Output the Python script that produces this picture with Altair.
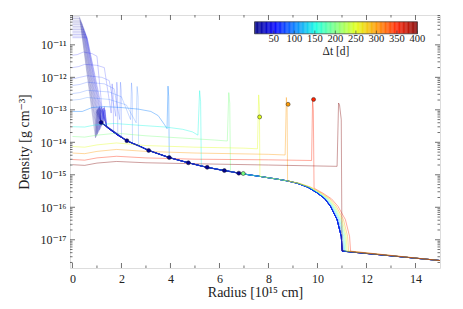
import altair as alt
import pandas as pd

FONT = "Liberation Serif, DejaVu Serif, serif"
X_DOMAIN = [-0.1, 15.0]
Y_DOMAIN = [1.35e-18, 8.3e-11]

# ---- unshocked CSM curve (x in 1e15 cm, log10 density) ----
main_x = [1.17, 1.40, 1.68, 1.85, 2.0, 2.22, 2.45, 2.70, 3.11, 3.95, 4.73, 5.26, 5.50, 6.20, 6.45, 6.85,
          7.65, 8.49, 8.78, 9.17, 9.6, 9.86, 9.99, 10.3, 10.53, 10.8, 10.97, 11.01]
main_y = [-13.39, -13.53, -13.69, -13.78, -13.85, -13.95, -14.03, -14.10, -14.25, -14.47, -14.63, -14.73,
          -14.77, -14.87, -14.90, -14.96, -15.05, -15.15, -15.19, -15.26, -15.38, -15.50, -15.56, -15.74,
          -15.97, -16.38, -16.90, -17.35]
# how much of a profile's outward shift applies at each node (outer edge only)
main_w = [0, 0, 0, 0, 0, 0, 0, 0, 0, 0, 0, 0, 0, 0, 0, 0, 0, 0, 0, 0.3, 0.5, 0.6, 0.65, 0.8, 0.9, 1, 1, 1]
tail_x = [15.0]
tail_y = [-17.64]

# ---- early profiles (dark blue fan) ----
fan_dt = [3, 6, 9, 12, 15, 18, 21, 24, 27, 30, 33, 36, 40, 45]
fan_top = [-10.14, -10.19, -10.24, -10.29, -10.33, -10.38, -10.43, -10.48, -10.53, -10.58, -10.63,
           -10.68, -10.73, -10.78]
fan_xa = [0.29, 0.31, 0.34, 0.36, 0.39, 0.41, 0.43, 0.46, 0.48, 0.51, 0.53, 0.55, 0.58, 0.60]
fan_xb = [0.94, 0.97, 1.00, 1.02, 1.05, 1.08, 1.11, 1.13, 1.16, 1.19, 1.22, 1.24, 1.27, 1.30]
fan_yb = [-13.86, -13.82, -13.78, -13.74, -13.70, -13.66, -13.62, -13.58, -13.54, -13.50, -13.46,
          -13.42, -13.38, -13.34]
fan_ys = [-13.05, -13.0, -12.98, -12.95, -12.92, -12.9, -12.95, -13.0, -12.92, -12.97, -13.02,
          -12.95, -12.9, -13.0]

# ---- mid-time profiles (blue) ----
mid_dt = [50, 58, 66, 74, 82, 90]
mid_x = [[0, 0.2, 0.45, 0.8, 1.0, 1.25, 1.29, 1.33],
         [0, 0.25, 0.5, 1.0, 1.3, 1.58, 1.62, 1.66],
         [0, 0.3, 0.6, 1.2, 1.5, 1.77, 1.81, 1.84],
         [0, 0.3, 0.6, 1.3, 1.7, 1.93, 1.96, 1.99],
         [0, 0.3, 0.6, 1.5, 2.0, 2.37, 2.41, 2.44],
         [0, 0.3, 0.6, 1.5, 2.2, 2.60, 2.64, 2.68]]
mid_y = [[-11.32, -11.30, -11.22, -11.27, -11.35, -13.30, -12.95, -13.10],
         [-11.70, -11.67, -11.60, -11.63, -11.70, -13.10, -12.20, -12.50],
         [-12.05, -12.00, -11.95, -12.00, -12.10, -13.20, -12.15, -12.40],
         [-12.25, -12.22, -12.15, -12.20, -12.35, -13.30, -12.15, -12.40],
         [-12.50, -12.47, -12.40, -12.45, -12.60, -13.30, -12.17, -12.50],
         [-12.70, -12.68, -12.62, -12.68, -12.85, -13.40, -12.28, -12.60]]

# ---- later coloured profiles ----
col_dt = [100, 150, 200, 250, 300, 350]
col_shift = [0.05, 0.10, 0.15, 0.20, 0.26, 0.34]
col_x = [[0, 0.4, 0.8, 1.3, 2.0, 2.7, 3.2, 3.5, 3.75, 3.86, 3.90, 3.93],
         [0, 0.5, 0.9, 1.7, 2.8, 3.8, 4.5, 4.9, 5.12, 5.19, 5.23],
         [0, 0.5, 1.0, 1.8, 3.0, 4.5, 5.8, 6.32, 6.38, 6.42],
         [0, 0.5, 1.0, 1.8, 3.0, 5.0, 7.0, 7.55, 7.60, 7.63],
         [0, 0.5, 1.0, 1.8, 3.0, 5.0, 8.0, 8.68, 8.73, 8.76],
         [0, 0.5, 1.0, 1.8, 3.0, 5.0, 8.0, 9.76, 9.80, 9.83]]
col_y = [[-13.05, -13.05, -12.93, -12.90, -12.93, -12.98, -13.05, -13.18, -13.45, -13.58, -12.27, -12.60],
         [-13.52, -13.53, -13.47, -13.42, -13.48, -13.53, -13.60, -13.68, -13.78, -12.41, -12.75],
         [-13.82, -13.84, -13.78, -13.72, -13.80, -13.87, -13.93, -13.96, -12.47, -12.80],
         [-14.13, -14.15, -14.08, -14.02, -14.10, -14.15, -14.18, -14.20, -12.54, -12.90],
         [-14.33, -14.35, -14.28, -14.22, -14.28, -14.33, -14.37, -14.39, -12.62, -12.95],
         [-14.53, -14.55, -14.48, -14.43, -14.48, -14.52, -14.54, -14.56, -12.67, -13.00]]
col_join_x = [3.95, 5.26, 6.45, 7.65, 8.78, 9.86]
col_join_y = [-14.47, -14.73, -14.90, -15.05, -15.19, -15.41]

# last profile (400 d): shell sits on the CSM edge
last_dt = 400
last_x = [0, 0.5, 1.0, 1.8, 3.0, 5.0, 8.0, 10.80, 10.86, 10.90, 10.97, 11.00, 11.38, 15.0]
last_y = [-14.69, -14.71, -14.64, -14.59, -14.63, -14.66, -14.70, -14.74, -12.79, -12.85, -13.30,
          -17.33, -17.38, -17.64]

# ---- shock markers ----
track_x = [1.17, 2.22, 3.11, 3.95, 4.73, 5.50, 6.20, 6.79, 6.97]
track_y = [-13.39, -13.95, -14.25, -14.47, -14.63, -14.77, -14.87, -14.95, -14.96]
dot_x = [1.17, 2.22, 3.11, 3.95, 4.73, 5.50, 6.20, 6.79, 6.97, 7.64, 8.80, 9.84]
dot_y = [-13.39, -13.95, -14.25, -14.47, -14.63, -14.77, -14.87, -14.95, -14.96, -13.22, -12.83, -12.68]
dot_dt = [10, 10, 10, 10, 10, 10, 10, 10, 200, 250, 300, 350]

# ---- colour bar (jet), Δt range and tick labels ----
JET = ["#00007f", "#0000ff", "#007fff", "#14ffe2", "#7bff7b", "#e2ff14", "#ff9700", "#ff2100", "#7f0000"]
JET_DOMAIN = [3, 52.6, 102.3, 151.9, 201.5, 251.1, 300.8, 350.4, 400]
CB_DT = [3, 400]
CB_TICKS = [50, 100, 150, 200, 250, 300, 350, 400]
CB_TITLE = "Δt [d]"
# colour bar placement in data coordinates (inside the axes, upper right)
CB_X = [7.43, 14.08]
CB_LOGY = [-10.29, -10.66]
CB_LABEL_LOGY = -10.82
CB_TITLE_LOGY = -11.22


def outer(join_x, shift):
    pts = []
    for x, y, w in zip(main_x, main_y, main_w):
        xs = x + shift * w
        if xs > join_x:
            pts.append((xs, y))
    return pts + list(zip(tail_x, tail_y))


early_rows, col_rows = [], []


def add(rows, pid, dt, pts):
    for i, (x, y) in enumerate(pts):
        rows.append({"pid": pid, "dt": dt, "x": x, "rho": 10 ** y, "o": i})


for k in range(len(fan_dt)):
    pts = [(0, fan_top[k]), (fan_xa[k], fan_top[k]), (fan_xb[k], fan_yb[k]), (fan_xb[k] + 0.03, fan_ys[k])]
    pts += outer(fan_xb[k] + 0.05, 0)
    add(early_rows, f"f{k:02d}", fan_dt[k], pts)

mid_join = [1.40, 1.68, 1.85, 2.0, 2.45, 2.70]
for k in range(len(mid_dt)):
    pts = list(zip(mid_x[k], mid_y[k]))
    pts += outer(mid_join[k] - 0.001, 0)
    add(early_rows, f"m{k}", mid_dt[k], pts)

for k in range(len(col_dt)):
    pts = list(zip(col_x[k], col_y[k])) + [(col_join_x[k], col_join_y[k])]
    pts += outer(col_join_x[k], col_shift[k])
    add(col_rows, f"c{k}", col_dt[k], pts)
add(col_rows, "c_last", last_dt, list(zip(last_x, last_y)))

df_early = pd.DataFrame(early_rows)
df_col = pd.DataFrame(col_rows)
df_track = pd.DataFrame({"x": track_x, "rho": [10 ** v for v in track_y]})
df_dots = pd.DataFrame({"x": dot_x, "rho": [10 ** v for v in dot_y], "dt": dot_dt})


def cb_pos(dt):
    return CB_X[0] + (dt - CB_DT[0]) / (CB_DT[1] - CB_DT[0]) * (CB_X[1] - CB_X[0])


cb_steps = list(range(CB_DT[0], CB_DT[1], 2))
df_cb = pd.DataFrame({
    "dt": [s + 1 for s in cb_steps],
    "x": [cb_pos(s) for s in cb_steps],
    "x2": [cb_pos(min(s + 2.3, CB_DT[1])) for s in cb_steps],
    "rho": [10 ** CB_LOGY[0]] * len(cb_steps),
    "rho2": [10 ** CB_LOGY[1]] * len(cb_steps),
})
df_cb_frame = pd.DataFrame({"x": [CB_X[0]], "x2": [CB_X[1]], "rho": [10 ** CB_LOGY[0]],
                            "rho2": [10 ** CB_LOGY[1]]})
df_cb_lab = pd.DataFrame({"x": [cb_pos(t) for t in CB_TICKS], "rho": [10 ** CB_LABEL_LOGY] * len(CB_TICKS),
                          "txt": [str(t) for t in CB_TICKS],
                          "y1": [10 ** CB_LOGY[1]] * len(CB_TICKS),
                          "y2": [10 ** (CB_LOGY[1] + 0.1)] * len(CB_TICKS)})
df_cb_title = pd.DataFrame({"x": [sum(CB_X) / 2], "rho": [10 ** CB_TITLE_LOGY], "txt": [CB_TITLE]})

# axes / scales
xscale = alt.Scale(domain=X_DOMAIN, nice=False, zero=False)
yscale = alt.Scale(type="log", domain=Y_DOMAIN, nice=False)
cscale = alt.Scale(domain=JET_DOMAIN, range=JET, interpolate="rgb")

exps = [-17, -16, -15, -14, -13, -12, -11]
sup = {"-": "⁻", "0": "⁰", "1": "¹", "2": "²", "3": "³", "4": "⁴", "5": "⁵", "6": "⁶", "7": "⁷",
       "8": "⁸", "9": "⁹"}
expr = "''"
for e in exps:
    lab = "10" + "".join(sup[c] for c in str(e))
    expr = f"round(log(datum.value)/LN10) == {e} ? '{lab}' : ({expr})"

xaxis = alt.Axis(values=[0, 2, 4, 6, 8, 10, 12, 14], ticks=False, domain=False, grid=False,
                 labelFont=FONT, labelFontSize=12, labelColor="#222", labelPadding=5,
                 titleFont=FONT, titleFontSize=14, titleFontWeight="normal", titleColor="#222",
                 titlePadding=1, format="d")
yaxis = alt.Axis(values=[10.0 ** e for e in exps], labelExpr=expr, ticks=False, domain=False,
                 grid=False, labelFont=FONT, labelFontSize=12, labelColor="#222", labelPadding=4,
                 titleFont=FONT, titleFontSize=14, titleFontWeight="normal", titleColor="#222",
                 titlePadding=8)
XT = "Radius [10¹⁵ cm]"
YT = "Density [g cm⁻³]"


def X():
    return alt.X("x:Q", scale=xscale, axis=xaxis, title=XT)


def Y():
    return alt.Y("rho:Q", scale=yscale, axis=yaxis, title=YT)


C = alt.Color("dt:Q", scale=cscale, legend=None)

early = alt.Chart(df_early).mark_line(opacity=0.3, strokeWidth=0.7, clip=True).encode(
    x=X(), y=Y(), color=C, detail="pid:N", order="o:Q")
later = alt.Chart(df_col).mark_line(opacity=0.38, strokeWidth=1.0, clip=True).encode(
    x=X(), y=Y(), color=C, detail="pid:N", order="o:Q")
track = alt.Chart(df_track).mark_line(color="#1f33b8", strokeWidth=1.2).encode(x=X(), y=Y())
dots = alt.Chart(df_dots).mark_circle(size=16, opacity=1, stroke="#222", strokeWidth=0.5).encode(
    x=X(), y=Y(), color=C)

# colour bar
cb = alt.Chart(df_cb).mark_rect(strokeWidth=0).encode(x=X(), x2="x2:Q", y=Y(), y2="rho2:Q", color=C)
cb_frame = alt.Chart(df_cb_frame).mark_rect(fill=None, stroke="#333", strokeWidth=0.7).encode(
    x=X(), x2="x2:Q", y=Y(), y2="rho2:Q")
cb_ticks = alt.Chart(df_cb_lab).mark_rule(color="#333", strokeWidth=0.6).encode(
    x=X(), y=alt.Y("y1:Q", scale=yscale, axis=yaxis, title=YT), y2="y2:Q")
cb_labels = alt.Chart(df_cb_lab).mark_text(font=FONT, fontSize=10.5, color="#222", baseline="middle").encode(
    x=X(), y=Y(), text="txt:N")
cb_title = alt.Chart(df_cb_title).mark_text(font=FONT, fontSize=11.5, color="#222", baseline="middle").encode(
    x=X(), y=Y(), text="txt:N")

# inward ticks
ymaj = [10.0 ** e for e in exps]
ymin = [m * 10.0 ** e for e in range(-18, -10) for m in range(2, 10)]
ymin = [v for v in ymin if Y_DOMAIN[0] < v < Y_DOMAIN[1]]
xmaj = [0, 2, 4, 6, 8, 10, 12, 14]
xmin = [1, 3, 5, 7, 9, 11, 13]
W, H = 370, 253


def yticks(vals, L):
    d = pd.DataFrame({"rho": vals})
    a = alt.Chart(d).mark_rule(color="#333", strokeWidth=0.7, clip=True).encode(
        y=Y(), x=alt.value(0), x2=alt.value(L))
    b = alt.Chart(d).mark_rule(color="#333", strokeWidth=0.7, clip=True).encode(
        y=Y(), x=alt.value(W - L), x2=alt.value(W))
    return [a, b]


def xticks(vals, L):
    d = pd.DataFrame({"x": vals})
    a = alt.Chart(d).mark_rule(color="#333", strokeWidth=0.7).encode(
        x=X(), y=alt.value(H - L), y2=alt.value(H))
    b = alt.Chart(d).mark_rule(color="#333", strokeWidth=0.7).encode(
        x=X(), y=alt.value(0), y2=alt.value(L))
    return [a, b]


layers = ([early, later, track, dots, cb, cb_frame, cb_ticks, cb_labels, cb_title]
          + yticks(ymaj, 5) + yticks(ymin, 2.5) + xticks(xmaj, 5) + xticks(xmin, 2.5))

chart = alt.layer(*layers).properties(
    width=W, height=H,
    autosize=alt.AutoSizeParams(type="none"),
    padding={"left": 62, "top": 7, "right": 15, "bottom": 33},
).configure_view(stroke="#333", strokeWidth=1).configure(
    background="white", font=FONT
).configure_axis(labelFont=FONT, titleFont=FONT)

chart.save("out.html", embed_options={"renderer": "svg", "actions": False})
